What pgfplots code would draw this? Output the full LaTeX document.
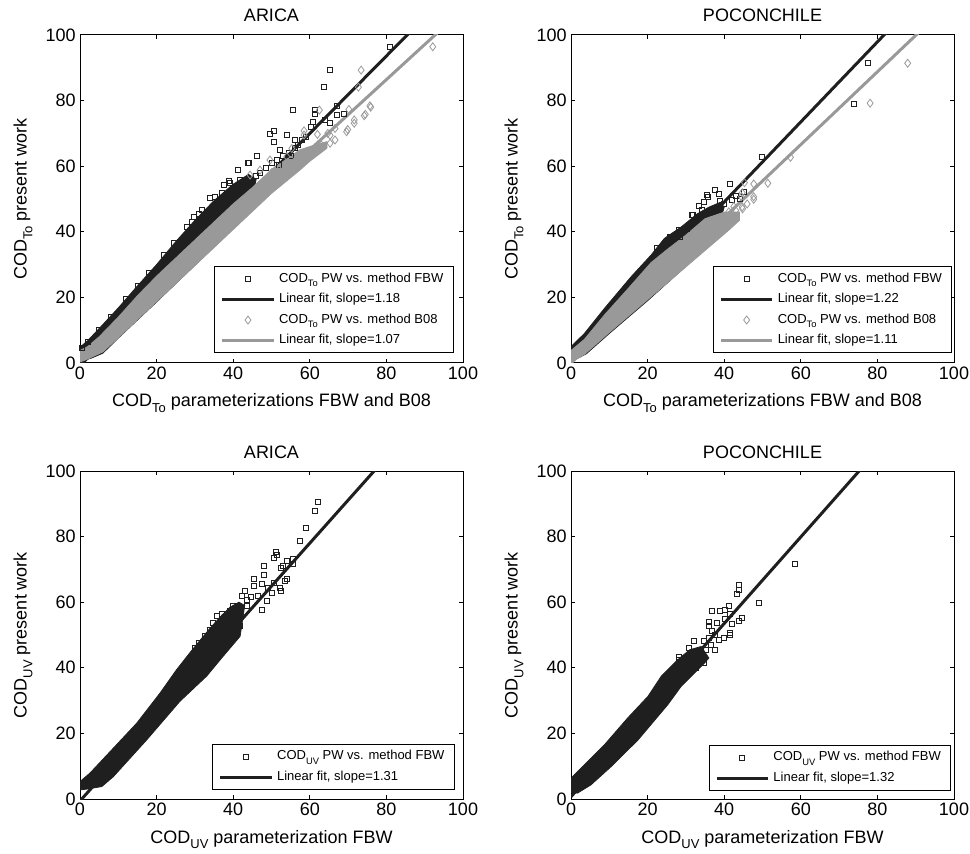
\documentclass[border=0pt]{standalone}
\usepackage{fontspec}
\setmainfont{Liberation Sans}
\usepackage{graphicx}
\usepackage{pgfplots}
\pgfplotsset{compat=1.18}

\definecolor{cblack}{gray}{0.12}
\definecolor{cgray}{gray}{0.6}
\newcommand{\sbs}[1]{\raisebox{-0.6ex}{\scalebox{0.72}{#1}}}
\newcommand{\nine}{\fontsize{9}{10}\selectfont}

\pgfplotsset{
  panel/.style={
    scale only axis, width=191.5pt, height=164pt,
    anchor=south west,
    xmin=0, xmax=100, ymin=0, ymax=100,
    xtick={0,20,...,100}, ytick={0,20,...,100},
    tick align=inside, major tick length=2pt,
    axis line style={line width=0.5pt},
    tick style={line width=0.5pt, black},
    /pgf/number format/assume math mode=true,
    tick label style={font=\nine},
    xticklabel style={inner sep=2pt},
    yticklabel style={inner sep=2pt},
    every axis title/.style={at={(rel axis cs:0.5,1)}, anchor=base, yshift=6.5pt, font=\nine},
    every axis x label/.style={at={(rel axis cs:0.5,0)}, anchor=base, yshift=-22pt, font=\nine},
    every axis y label/.style={at={(rel axis cs:0,0.5)}, anchor=base, rotate=90, yshift=26.7pt, font=\nine},
    legend cell align=left,
    legend style={font=\fontsize{6.5}{7.5}\selectfont, draw=black, line width=0.5pt,
      inner xsep=3pt, inner ysep=1pt, row sep=0pt, anchor=south east},
    legend image code/.code={\draw[mark repeat=2,mark phase=2,#1] plot coordinates {(0cm,0cm) (0.45cm,0cm) (0.9cm,0cm)};},
  },
  sq/.style={only marks, mark=square, mark size=1.25pt, mark options={draw=cblack, line width=0.4pt}},
  dm/.style={only marks, mark=diamond, mark size=2pt, mark options={draw=cgray, line width=0.4pt}},
  fitk/.style={cblack, line width=1.5pt, no marks},
  fitg/.style={cgray, line width=1.5pt, no marks},
  corek/.style={fill=cblack, draw=cblack, line width=0.4pt, no marks, forget plot},
  coreg/.style={fill=cgray, draw=cgray, line width=0.4pt, no marks, forget plot},
}

\begin{document}
\begin{tikzpicture}
\useasboundingbox (0,0) rectangle (485pt,426.5pt);

% ---------------- top left: ARICA, COD_To
\begin{axis}[panel, at={(40pt,245pt)}, title={ARICA},
  xlabel={COD\sbs{To} parameterizations FBW and B08},
  ylabel={COD\sbs{To} present work},
  legend style={at={(0.976,0.03)}}]
\addplot[corek] coordinates {
 (0,4.8) (2,6.8) (5,10.5) (10,16.8) (15,23.5) (20,30) (25,37) (30,43.5) (35,49.5) (40,54.5) (44,57.5)
 (46,56) (44,45.5) (40,41) (30,29.8) (20,18.6) (10,7.6) (6,3.0) (3,1.5) (1,0.8) (0,1.5)} -- cycle;
\addplot[sq] coordinates {
 (80.9,96.4) (65.3,89.3) (63.7,84.1) (55.5,77.1) (61.4,77.3) (61.4,75.8) (67.2,78.4) (67.1,75.6)
 (69.0,75.8) (64.0,74.1) (65.3,73.1) (60.9,73.5) (60.3,72.1) (50.7,70.8) (49.6,69.8) (50.7,67.5)
 (54.1,69.5) (56.1,68.0) (52.2,65.1) (46.1,63.2) (43.9,61.1) (44.2,60.9) (41.3,59.0) (41.8,55.8)
 (39.0,55.5) (39.2,54.8) (37.7,54.3) (37.0,51.9) (35.2,50.7) (33.9,50.2) (31.9,46.6) (31.1,45.6)
 (29.8,44.6) (29.2,43.1) (27.9,41.6) (24.4,36.7) (47,58) (48.5,59.5) (50,61) (51.5,62) (53,63)
 (54.5,64) (56,65.5) (57,66.5) (58,68) (59,69) (55,63) (52,60.5) (46,57) (22,33) (18,27.5)
 (15,23.5) (12,19.5) (8,14) (5,10) (2,6.5) (0.5,4.5)};
\addlegendentry{COD\sbs{To} PW vs. method FBW}
\addplot[fitk] coordinates {(0,-0.8) (90,105.4)};
\addlegendentry{Linear fit, slope=1.18}
\addplot[coreg] coordinates {
 (0,0.3) (2,1.2) (6,3.4) (10,7.7) (20,18.7) (30,29.7) (40,40.7) (50,51.7) (57.4,58.8) (60,61.5) (64.5,65.5)
 (64.5,67.5) (60,66) (57.4,65) (55,63) (50,59) (45,53.5) (40,48.5) (35,43) (30,37.5) (25,32) (20,26.5)
 (15,20.5) (10,14) (5,8) (2,5) (0,3.8)} -- cycle;
\addplot[dm] coordinates {
 (92.1,96.4) (73.4,89.3) (72.7,84.1) (62.5,77.1) (70.2,77.3) (75.7,78.4) (75.9,78.0) (74.2,75.4)
 (74.5,75.8) (71.6,74.1) (71.6,73.1) (69.9,71.2) (69.6,70.5) (66.6,71.5) (64.7,70.0) (65.3,69.4)
 (66.6,68.0) (65.3,67.0) (58.5,70.8) (58.5,69.5) (62.0,69.7) (55.3,65.4) (54.0,62.9) (49.6,61.9)
 (47.0,58.8) (44.4,57.3) (50,58) (52,59) (54,60.5) (56,61.5) (58,63) (60,64) (62,65.5) (63,66.5)};
\addlegendentry{COD\sbs{To} PW vs. method B08}
\addplot[fitg] coordinates {(0,0.8) (95,102.45)};
\addlegendentry{Linear fit, slope=1.07}
\end{axis}

% ---------------- top right: POCONCHILE, COD_To
\begin{axis}[panel, at={(285.5pt,245pt)}, title={POCONCHILE},
  xlabel={COD\sbs{To} parameterizations FBW and B08},
  ylabel={COD\sbs{To} present work},
  legend style={at={(0.996,0.03)}}]
\addplot[corek] coordinates {
 (0,5) (3.5,9) (8.7,16.6) (15.7,26.3) (20.9,32.9) (24.4,38) (28.8,41.5) (33,45.5) (36,47.5) (39,49)
 (40,47.5) (38,40) (30,29.5) (20,19) (10,9) (4,2.8) (1,1) (0,1.5)} -- cycle;
\addplot[sq] coordinates {
 (77.4,91.4) (73.9,79.0) (49.9,62.9) (41.6,54.6) (45.1,52.2) (35.5,51.4) (35.7,50.6) (37.7,52.7)
 (38.6,51.7) (34.6,49.2) (33.3,47.9) (34.2,46.6) (34.8,45.6) (31.6,45.1) (31.9,45.1) (31.6,42.4)
 (30.3,41.0) (28.1,40.5) (28.5,38.5) (25.9,38.5) (25.5,37.0) (23.7,35.5) (22.4,35.0) (42.1,49.7)
 (38.6,47.7) (40,48.5) (36.5,46) (39,49.5) (43,51) (44,50)};
\addlegendentry{COD\sbs{To} PW vs. method FBW}
\addplot[fitk] coordinates {(0,0.3) (85,104)};
\addlegendentry{Linear fit, slope=1.22}
\addplot[coreg] coordinates {
 (0,0.3) (3.5,2.6) (10,9.3) (20,19.3) (30,29.3) (41,40.3) (44,43.5)
 (44,46) (40,46) (35,44) (30,39) (25,34.5) (20.9,30.6) (15,22.8) (8.7,14.6) (3.5,7.2) (0,3.8)} -- cycle;
\addplot[dm] coordinates {
 (87.9,91.4) (78.1,79.2) (57.3,62.7) (51.4,54.8) (47.7,54.6) (47.7,50.7) (47.7,49.9) (44.7,51.9)
 (44.5,50.7) (42.5,47.7) (44.7,47.6) (44.8,47.0) (41.2,46.1) (40.3,44.1) (39.0,42.6) (37.7,40.5)
 (45.3,55.0) (46,48.5) (43,46.5)};
\addlegendentry{COD\sbs{To} PW vs. method B08}
\addplot[fitg] coordinates {(0,0) (92,102.1)};
\addlegendentry{Linear fit, slope=1.11}
\end{axis}

% ---------------- bottom left: ARICA, COD_UV
\begin{axis}[panel, at={(40pt,27pt)}, title={ARICA},
  xlabel={COD\sbs{UV} parameterization FBW},
  ylabel={COD\sbs{UV} present work},
  legend style={at={(0.979,0.028)}}]
\addplot[corek] coordinates {
 (0,5.3) (2.6,7.9) (8.7,15.5) (14.8,23.1) (20.9,32.3) (25.2,39.4) (28.7,44.6) (33.9,52) (37,56)
 (39.2,58.5) (41.5,60) (43,59) (42.5,55) (41.8,49.6) (37,43) (33.1,37.5) (26.1,29.8) (17.4,18.0)
 (8.7,6.8) (5.7,3.8) (1.7,3.0) (0,2.8)} -- cycle;
\addplot[sq] coordinates {
 (62.2,90.7) (61.4,87.9) (59.0,82.8) (57.3,78.7) (51.2,75.4) (51.4,74.5) (50.5,73.6) (54.0,72.6)
 (55.7,73.1) (55.7,71.6) (47.9,71.0) (48.1,71.0) (52.9,71.0) (52.4,70.5) (47.9,68.2) (45.3,67.0)
 (45.5,67.0) (53.5,66.5) (54.1,67.0) (52.2,64.4) (52.4,63.4) (50.0,62.9) (48.7,60.3) (47.4,57.8)
 (43.1,63.4) (43.5,60.8) (43.5,58.8) (42.2,61.9) (45.4,64.9) (40.0,58.8) (39.2,57.3) (37.0,56.3)
 (35.7,55.8) (34.8,53.7) (33.9,51.7) (32.6,49.6) (40.5,54.7) (41.8,52.7) (40.9,50.7) (46.5,62)
 (49,64.5) (50.5,66) (44.5,61.5) (47.5,65.5) (31,47.5) (30,46) (36.5,53) (38.5,55.5)};
\addlegendentry{COD\sbs{UV} PW vs. method FBW}
\addplot[fitk] coordinates {(0,-0.6) (80,104.2)};
\addlegendentry{Linear fit, slope=1.31}
\end{axis}

% ---------------- bottom right: POCONCHILE, COD_UV
\begin{axis}[panel, at={(285.5pt,27pt)}, title={POCONCHILE},
  xlabel={COD\sbs{UV} parameterization FBW},
  ylabel={COD\sbs{UV} present work},
  legend style={at={(0.993,0.025)}}]
\addplot[corek] coordinates {
 (0,6.3) (2.6,9.4) (8.7,16.5) (14.8,24.7) (20.1,31.3) (23.6,37.5) (27.9,42.5) (31,45.5) (34,46.5)
 (36,43) (34.9,41.5) (31.4,37.4) (28.8,34.4) (25.3,28.8) (17.5,18) (10.5,9.9) (5.2,4.3) (1.7,1.8) (0,2)} -- cycle;
\addplot[sq] coordinates {
 (58.4,71.6) (49.0,59.8) (43.8,65.4) (43.9,65.2) (43.8,63.9) (43.4,62.4) (41.2,58.8) (40.3,57.8)
 (39.0,57.5) (36.8,57.5) (41.6,56.5) (40.3,55.0) (44.7,55.3) (43.8,54.2) (42.1,53.5) (35.9,53.9)
 (35.9,52.9) (38.1,53.7) (36.8,51.2) (41.6,50.7) (41.6,49.9) (39.9,49.1) (38.6,48.6) (32.0,48.3)
 (34.6,48.1) (35.1,45.6) (37.7,45.6) (30.7,46.1) (34.2,43.5) (34.6,41.5) (28.1,43.3) (28.2,42.3)
 (32.5,40.0) (29.8,40.5) (36.5,47) (33,44.5) (37.5,50) (36,49)};
\addlegendentry{COD\sbs{UV} PW vs. method FBW}
\addplot[fitk] coordinates {(0,0.7) (78,103.66)};
\addlegendentry{Linear fit, slope=1.32}
\end{axis}
\end{tikzpicture}
\end{document}
